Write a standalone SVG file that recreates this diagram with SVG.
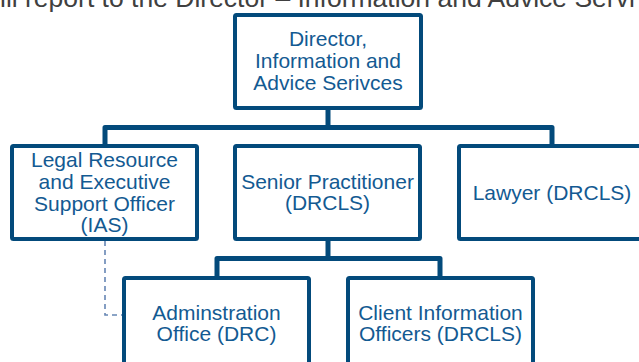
<svg xmlns="http://www.w3.org/2000/svg" width="639" height="362" viewBox="0 0 639 362">
<style>
.box{fill:#ffffff;stroke:#034a7b;stroke-width:4;}
.lbl{font-family:"Liberation Sans",Arial,sans-serif;font-size:21px;fill:#135a92;text-anchor:middle;}
.con{fill:none;stroke:#034a7b;stroke-width:5;stroke-linejoin:round;}
.dash{fill:none;stroke:#6686b4;stroke-width:1.6;stroke-dasharray:5,4;}
.hdr{font-family:"Liberation Sans",Arial,sans-serif;font-size:26.5px;fill:#404040;}
</style>
<rect width="639" height="362" fill="#ffffff"/>
<text class="hdr" x="0" y="7">ill report to the Director – Information and Advice Servi</text>
<g id="connectors">
<path class="con" d="M328 110 V127.5"/>
<path class="con" d="M105 144 V127.5 H552 V144"/>
<path class="con" d="M328 241 V258.5"/>
<path class="con" d="M217 276 V258.5 H440 V276"/>
<path class="dash" d="M105 241 V315 H122"/>
</g>
<g id="director">
<rect class="box" x="235" y="15" width="186" height="93" rx="1.5"/>
<text class="lbl" x="328" y="46">Director,</text>
<text class="lbl" x="328" y="68">Information and</text>
<text class="lbl" x="328" y="90">Advice Serivces</text>
</g>
<g id="legal">
<rect class="box" x="12" y="146" width="185" height="93" rx="1.5"/>
<text class="lbl" x="104.5" y="167">Legal Resource</text>
<text class="lbl" x="104.5" y="188.5">and Executive</text>
<text class="lbl" x="104.5" y="210.5">Support Officer</text>
<text class="lbl" x="104.5" y="232">(IAS)</text>
</g>
<g id="senior">
<rect class="box" x="235" y="146" width="185" height="93" rx="1.5"/>
<text class="lbl" x="327.5" y="188.5">Senior Practitioner</text>
<text class="lbl" x="327.5" y="210">(DRCLS)</text>
</g>
<g id="lawyer">
<rect class="box" x="459" y="146" width="185" height="93" rx="1.5"/>
<text class="lbl" x="552" y="200">Lawyer (DRCLS)</text>
</g>
<g id="admin">
<rect class="box" x="124" y="278" width="185" height="100" rx="1.5"/>
<text class="lbl" x="216.5" y="320">Adminstration</text>
<text class="lbl" x="216.5" y="341">Office (DRC)</text>
</g>
<g id="client">
<rect class="box" x="348" y="278" width="185" height="100" rx="1.5"/>
<text class="lbl" x="440.5" y="320">Client Information</text>
<text class="lbl" x="440.5" y="341">Officers (DRCLS)</text>
</g>
</svg>
